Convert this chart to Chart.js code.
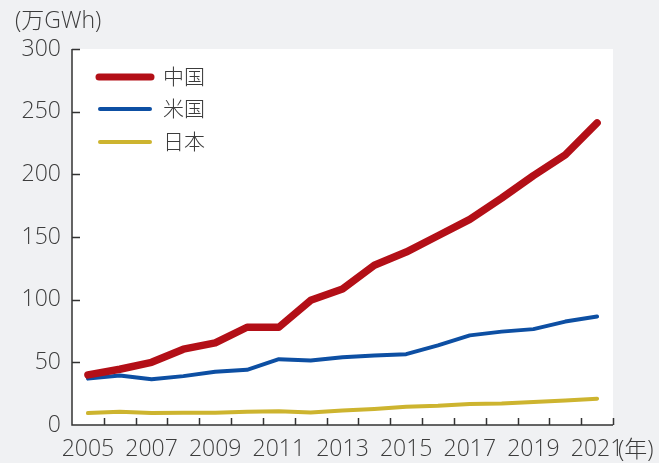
<!DOCTYPE html>
<html>
<head>
<meta charset="utf-8">
<script src="https://cdn.jsdelivr.net/npm/chart.js@4"></script>
<style>
  html, body { margin: 0; padding: 0; background: #f0f1f3; }
  #wrap { width: 659px; height: 463px; }
</style>
</head>
<body>
<div id="wrap"><canvas id="chart" width="659" height="463"></canvas></div>
<script>
const years = ["2005", "2006", "2007", "2008", "2009", "2010", "2011", "2012", "2013",
  "2014", "2015", "2016", "2017", "2018", "2019", "2020", "2021"];
const china = [40, 44.5, 50, 60.5, 65.5, 78, 78, 99.5, 108.5, 127.5, 138, 151, 164, 181, 199, 215.5, 241];
const usa = [37, 39.5, 36.5, 39, 42.5, 44, 52.5, 51.5, 54, 55.5, 56.5, 63.5, 71.5, 74.5, 76.5, 82.5, 86.5];
const japan = [9.5, 10.5, 9.5, 9.7, 9.8, 10.5, 11, 10, 11.5, 12.8, 14.5, 15.3, 16.8, 17.2, 18.3, 19.6, 21];
const seriesNames = ["中国", "米国", "日本"];
const yTicks = [0, 50, 100, 150, 200, 250, 300];

const FONT = "'Open Sans', 'Noto Sans CJK JP', sans-serif";
const TEXT = "#3c3c3c";
const AXIS = "#333333";

const decor = {
  id: "decor",
  beforeDraw(chart) {
    const { ctx, chartArea: a } = chart;
    ctx.save();
    ctx.fillStyle = "#f0f1f3";
    ctx.fillRect(0, 0, chart.width, chart.height);
    ctx.fillStyle = "#ffffff";
    ctx.fillRect(a.left, a.top, a.right - a.left, a.bottom - a.top);
    ctx.restore();
  },
  afterDraw(chart) {
    const { ctx, chartArea: a } = chart;
    const x = chart.scales.x;
    const y = chart.scales.y;
    ctx.save();
    ctx.strokeStyle = AXIS;
    ctx.lineWidth = 1.5;
    // axes
    ctx.beginPath();
    ctx.moveTo(a.left, a.top);
    ctx.lineTo(a.left, a.bottom);
    ctx.lineTo(a.right, a.bottom);
    ctx.stroke();
    // inward ticks on y
    yTicks.forEach((v) => {
      if (v === 0) return;
      const py = Math.round(y.getPixelForValue(v)) + 0.5;
      ctx.beginPath();
      ctx.moveTo(a.left, py);
      ctx.lineTo(a.left + 8, py);
      ctx.stroke();
    });
    // inward ticks on x, between categories
    for (let i = 0; i < years.length; i++) {
      const px = i < years.length - 1
        ? (x.getPixelForValue(i) + x.getPixelForValue(i + 1)) / 2
        : a.right;
      ctx.beginPath();
      ctx.moveTo(Math.round(px) + 0.5, a.bottom);
      ctx.lineTo(Math.round(px) + 0.5, a.bottom - 7);
      ctx.stroke();
    }
    // unit labels
    ctx.fillStyle = TEXT;
    ctx.font = "300 23px " + FONT;
    ctx.textBaseline = "middle";
    ctx.textAlign = "left";
    ctx.fillText("(万GWh)", 15, 21);
    ctx.fillText("(年)", a.right + 5, 450);
    // legend
    const rows = [[98, 77], [98, 109], [98, 142]];
    chart.data.datasets.forEach((ds, i) => {
      const [lx, ly] = rows[i];
      ctx.strokeStyle = ds.borderColor;
      ctx.lineWidth = i === 0 ? 7 : 4;
      ctx.lineCap = "round";
      ctx.beginPath();
      ctx.moveTo(lx + (i === 0 ? 1 : 2), ly);
      ctx.lineTo(lx + (i === 0 ? 53 : 52), ly);
      ctx.stroke();
      ctx.fillStyle = TEXT;
      ctx.font = "300 21px " + FONT;
      ctx.fillText(ds.label, 163, ly + 1);
    });
    ctx.restore();
  }
};

new Chart(document.getElementById("chart"), {
  type: "line",
  data: {
    labels: years,
    datasets: [
      { label: seriesNames[0], data: china, borderColor: "#b30f17", borderWidth: 7.5 },
      { label: seriesNames[1], data: usa, borderColor: "#0d4fa3", borderWidth: 4 },
      { label: seriesNames[2], data: japan, borderColor: "#cdb42f", borderWidth: 4 }
    ].map((d) => Object.assign(d, {
      pointRadius: 0,
      tension: 0,
      fill: false,
      borderCapStyle: "round",
      borderJoinStyle: "round"
    }))
  },
  options: {
    responsive: false,
    animation: false,
    layout: { padding: { left: 0, top: 49, right: 46, bottom: 0 } },
    plugins: { legend: { display: false }, tooltip: { enabled: false } },
    scales: {
      x: {
        type: "category",
        offset: true,
        grid: { display: false, drawTicks: false },
        border: { display: false },
        afterFit(s) { s.height = 38; },
        ticks: {
          autoSkip: false,
          maxRotation: 0,
          padding: 11,
          color: TEXT,
          font: { family: FONT, size: 23, weight: "300" },
          callback(v, i) { return i % 2 === 0 ? years[i] : ""; }
        }
      },
      y: {
        min: 0,
        max: 300,
        grid: { display: false, drawTicks: false },
        border: { display: false },
        afterFit(s) { s.width = 72; },
        afterBuildTicks(s) { s.ticks = yTicks.map((v) => ({ value: v })); },
        ticks: {
          padding: 11,
          color: TEXT,
          font: { family: FONT, size: 23, weight: "300" }
        }
      }
    }
  },
  plugins: [decor]
});
</script>
</body>
</html>
